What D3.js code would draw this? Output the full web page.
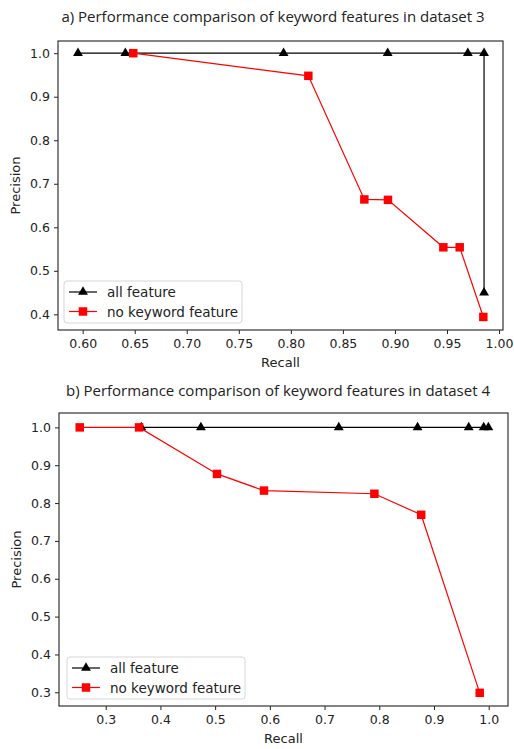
<!DOCTYPE html>
<html>
<head>
<meta charset="utf-8">
<script src="https://cdn.jsdelivr.net/npm/d3@7"></script>
<style>
  body { margin: 0; background: #fff; }
  svg text { font-family: "DejaVu Sans", sans-serif; fill: #222; }
  .title { font-family: "Open Sans", sans-serif; font-size: 15px; }
</style>
</head>
<body>
<div id="chart"></div>
<script>
// dataset 3
const recallAll3 = [0.5955, 0.641, 0.793, 0.893, 0.970, 0.9856, 0.9856];
const precisionAll3 = [1.0, 1.0, 1.0, 1.0, 1.0, 1.0, 0.45];
const recallNoKw3 = [0.6486, 0.8168, 0.8706, 0.8933, 0.9465, 0.9622, 0.9849];
const precisionNoKw3 = [1.0, 0.948, 0.664, 0.663, 0.554, 0.554, 0.394];
const xTicks3 = [0.60, 0.65, 0.70, 0.75, 0.80, 0.85, 0.90, 0.95, 1.00];
const yTicks3 = [0.4, 0.5, 0.6, 0.7, 0.8, 0.9, 1.0];

// dataset 4
const recallAll4 = [0.365, 0.474, 0.726, 0.870, 0.9635, 0.9909, 0.9994];
const precisionAll4 = [1.0, 1.0, 1.0, 1.0, 1.0, 1.0, 1.0];
const recallNoKw4 = [0.2525, 0.361, 0.5034, 0.5893, 0.7911, 0.8766, 0.9836];
const precisionNoKw4 = [1.0, 1.0, 0.877, 0.833, 0.8246, 0.769, 0.2986];
const xTicks4 = [0.3, 0.4, 0.5, 0.6, 0.7, 0.8, 0.9, 1.0];
const yTicks4 = [0.3, 0.4, 0.5, 0.6, 0.7, 0.8, 0.9, 1.0];

const seriesNames = ['all feature', 'no keyword feature'];
const seriesColors = ['#000000', '#ff0000'];

const svg = d3.select('#chart').append('svg')
  .attr('width', 514)
  .attr('height', 749);

const tri = d3.symbol().type(d3.symbolTriangle).size(42);
const sq = d3.symbol().type(d3.symbolSquare).size(72);

function drawPanel(p) {
  const x = d3.scaleLinear().domain(p.xDomain).range([p.left, p.right]);
  const y = d3.scaleLinear().domain(p.yDomain).range([p.bottom, p.top]);
  const g = svg.append('g');

  g.append('text')
    .attr('class', 'title')
    .attr('x', p.titleX)
    .attr('y', p.titleY)
    .attr('text-anchor', 'middle')
    .text(p.title);

  // axes
  g.append('g')
    .attr('transform', 'translate(0,' + p.bottom + ')')
    .call(d3.axisBottom(x).tickValues(p.xTicks).tickSize(4).tickPadding(5).tickFormat(d3.format(p.xFmt)))
    .call(a => a.select('.domain').remove())
    .call(a => a.selectAll('text').style('font-size', '12.5px').attr('fill', '#222'))
    .call(a => a.selectAll('line').attr('stroke', '#222'));
  g.append('g')
    .attr('transform', 'translate(' + p.left + ',0)')
    .call(d3.axisLeft(y).tickValues(p.yTicks).tickSize(4).tickPadding(4).tickFormat(d3.format('.1f')))
    .call(a => a.select('.domain').remove())
    .call(a => a.selectAll('text').style('font-size', '12.5px').attr('fill', '#222'))
    .call(a => a.selectAll('line').attr('stroke', '#222'));

  g.append('text')
    .attr('x', (p.left + p.right) / 2)
    .attr('y', p.bottom + 37)
    .attr('text-anchor', 'middle')
    .style('font-size', '13px')
    .text('Recall');
  g.append('text')
    .attr('transform', 'translate(' + (p.left - 38) + ',' + ((p.top + p.bottom) / 2) + ') rotate(-90)')
    .attr('text-anchor', 'middle')
    .style('font-size', '13px')
    .text('Precision');

  const line = d3.line().x(d => x(d[0])).y(d => y(d[1]));
  const series = [
    d3.zip(p.recallAll, p.precisionAll),
    d3.zip(p.recallNoKw, p.precisionNoKw)
  ];

  // black first, red on top (as in the original plot order)
  series.forEach((pts, i) => {
    g.append('path')
      .datum(pts)
      .attr('fill', 'none')
      .attr('stroke', seriesColors[i])
      .attr('stroke-width', 1.2)
      .attr('d', line);
    g.selectAll(null)
      .data(pts)
      .enter()
      .append('path')
      .attr('transform', d => 'translate(' + x(d[0]) + ',' + y(d[1]) + ')')
      .attr('d', i === 0 ? tri : sq)
      .attr('fill', seriesColors[i]);
  });

  // frame
  g.append('rect')
    .attr('x', p.left)
    .attr('y', p.top)
    .attr('width', p.right - p.left)
    .attr('height', p.bottom - p.top)
    .attr('fill', 'none')
    .attr('stroke', '#333')
    .attr('stroke-width', 1.2);

  // legend
  const lg = g.append('g').attr('transform', 'translate(' + p.legX + ',' + p.legY + ')');
  lg.append('rect')
    .attr('width', 178)
    .attr('height', 42)
    .attr('rx', 3)
    .attr('fill', '#fff')
    .attr('fill-opacity', 0.8)
    .attr('stroke', '#d6d6d6');
  seriesNames.forEach((name, i) => {
    const ly = 11 + i * 19.5;
    lg.append('line')
      .attr('x1', 5).attr('x2', 33)
      .attr('y1', ly).attr('y2', ly)
      .attr('stroke', seriesColors[i])
      .attr('stroke-width', 1.2);
    lg.append('path')
      .attr('transform', 'translate(19,' + ly + ')')
      .attr('d', i === 0 ? tri : sq)
      .attr('fill', seriesColors[i]);
    lg.append('text')
      .attr('x', 43)
      .attr('y', ly + 5)
      .style('font-size', '13.5px')
      .text(name);
  });
}

drawPanel({
  title: 'a) Performance comparison of keyword features in dataset 3',
  titleX: 273, titleY: 22,
  left: 58, right: 503, top: 41, bottom: 330,
  xDomain: [0.5763, 1.0038], yDomain: [0.364, 1.028],
  xTicks: xTicks3, yTicks: yTicks3, xFmt: '.2f',
  recallAll: recallAll3, precisionAll: precisionAll3,
  recallNoKw: recallNoKw3, precisionNoKw: precisionNoKw3,
  legX: 64, legY: 281
});

drawPanel({
  title: 'b) Performance comparison of keyword features in dataset 4',
  titleX: 278, titleY: 396,
  left: 59, right: 508, top: 413, bottom: 706,
  xDomain: [0.2146, 1.0353], yDomain: [0.2638, 1.038],
  xTicks: xTicks4, yTicks: yTicks4, xFmt: '.1f',
  recallAll: recallAll4, precisionAll: precisionAll4,
  recallNoKw: recallNoKw4, precisionNoKw: precisionNoKw4,
  legX: 67, legY: 657
});
</script>
</body>
</html>
